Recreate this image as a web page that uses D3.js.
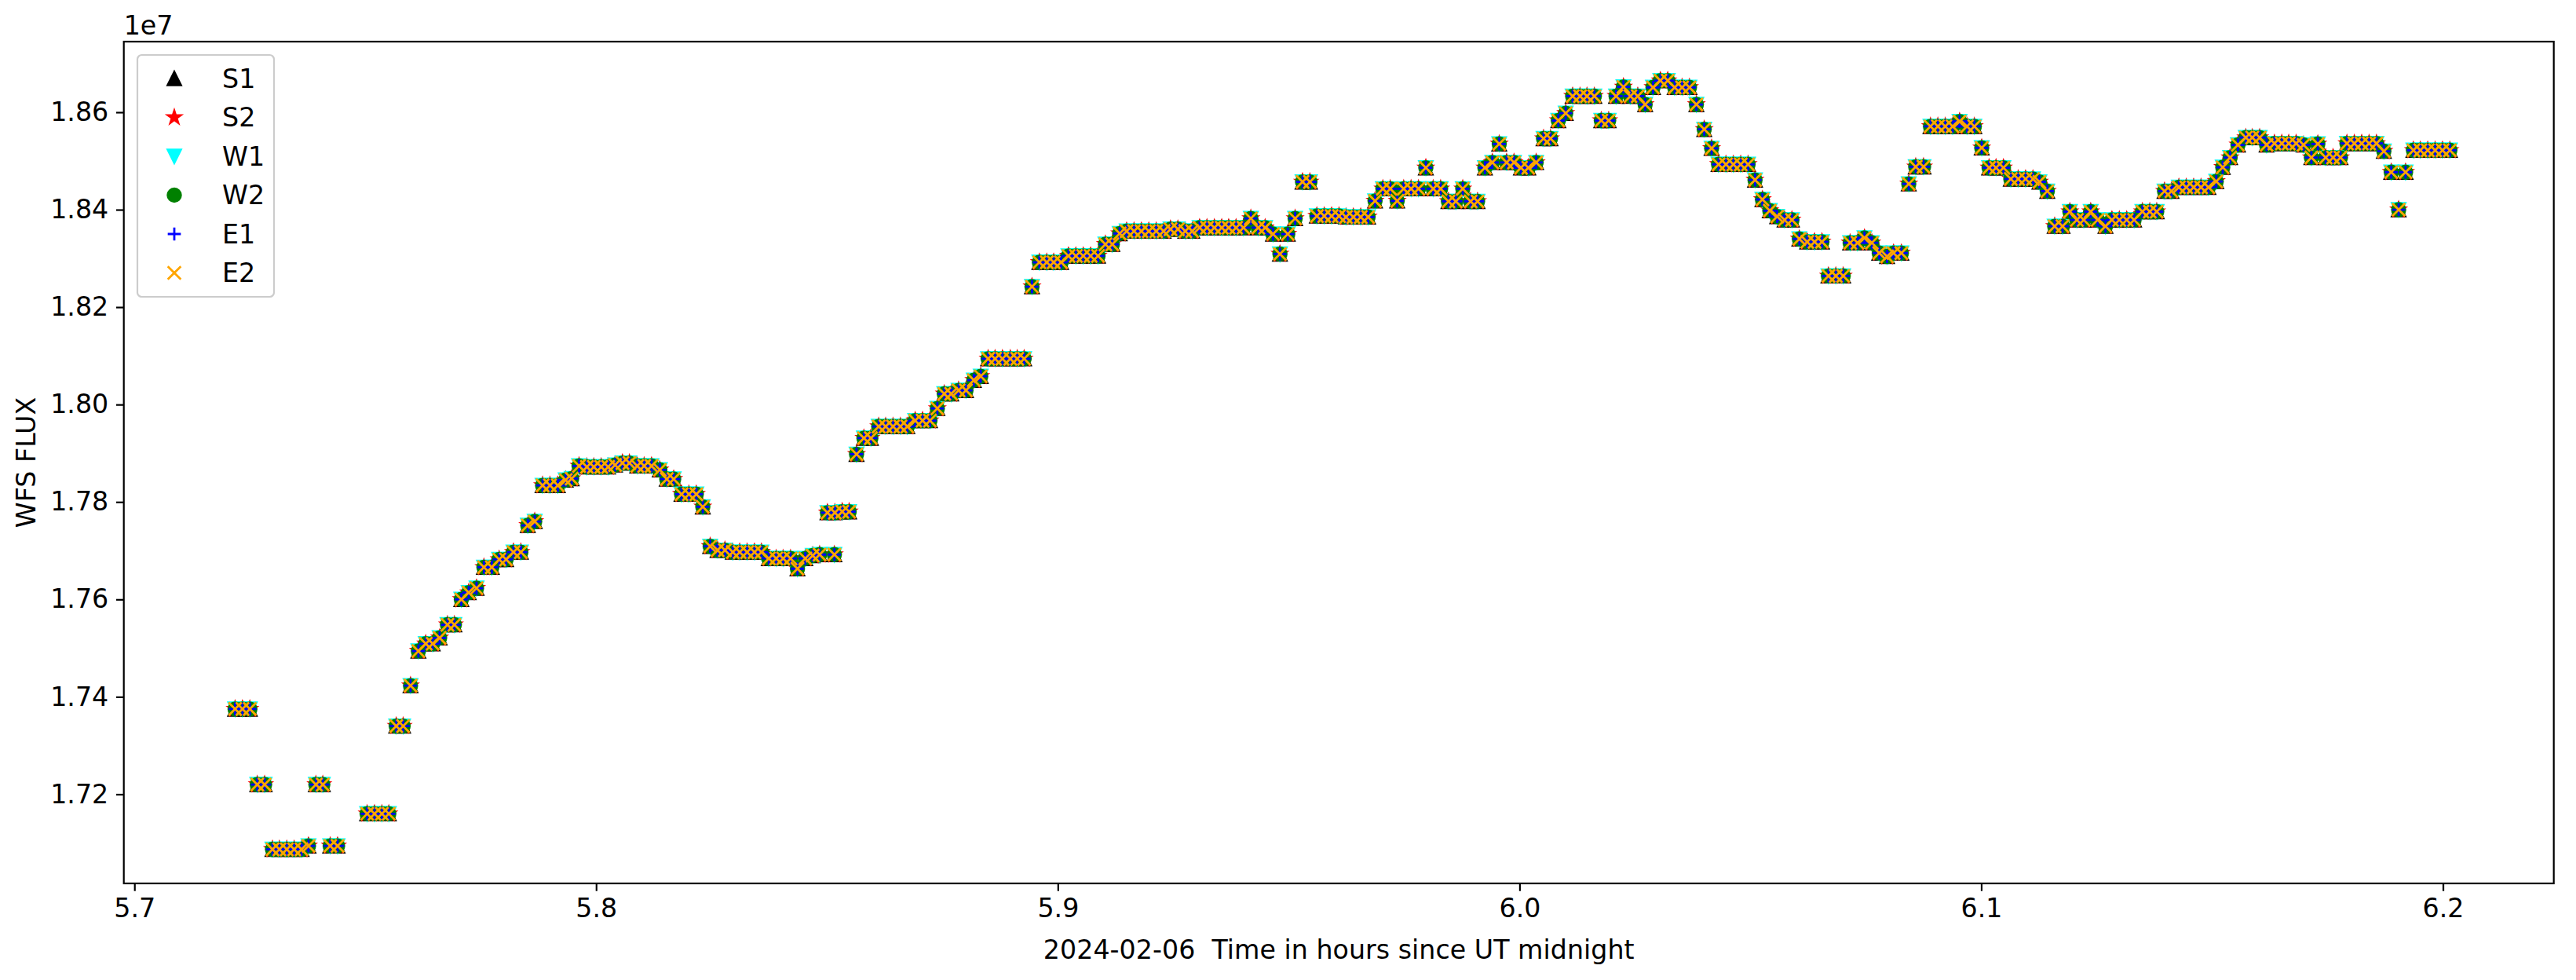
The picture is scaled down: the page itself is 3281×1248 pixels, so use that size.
<!DOCTYPE html>
<html lang="en">
<head>
  <meta charset="UTF-8">
  <title>WFS FLUX</title>
  <script src="https://d3js.org/d3.v7.min.js"></script>
  <style>
    body { margin: 0; background: #fff; }
    svg text { font-family: "DejaVu Sans", sans-serif; }
  </style>
</head>
<body>
  <svg id="chart"></svg>
  <script>
    // time in hours since UT midnight (all six WFS channels sit on the same values)
    var hours = [
      5.7218, 5.7234, 5.7250, 5.7266, 5.7282, 5.7299, 5.7314, 5.7330, 5.7346, 5.7362,
      5.7377, 5.7393, 5.7408, 5.7424, 5.7440, 5.7504, 5.7520, 5.7536, 5.7551, 5.7567,
      5.7582, 5.7598, 5.7615, 5.7631, 5.7646, 5.7661, 5.7678, 5.7693, 5.7708, 5.7724,
      5.7741, 5.7757, 5.7774, 5.7790, 5.7805, 5.7821, 5.7837, 5.7852, 5.7867, 5.7884,
      5.7900, 5.7917, 5.7934, 5.7947, 5.7963, 5.7980, 5.7995, 5.8011, 5.8026, 5.8041,
      5.8057, 5.8072, 5.8089, 5.8104, 5.8120, 5.8138, 5.8153, 5.8168, 5.8185, 5.8201,
      5.8217, 5.8231, 5.8247, 5.8263, 5.8279, 5.8296, 5.8311, 5.8327, 5.8343, 5.8358,
      5.8374, 5.8390, 5.8405, 5.8421, 5.8436, 5.8453, 5.8469, 5.8484, 5.8501, 5.8516,
      5.8517, 5.8533, 5.8548, 5.8564, 5.8580, 5.8595, 5.8612, 5.8627, 5.8643, 5.8659,
      5.8674, 5.8691, 5.8707, 5.8723, 5.8739, 5.8754, 5.8769, 5.8785, 5.8801, 5.8818,
      5.8833, 5.8849, 5.8864, 5.8880, 5.8897, 5.8912, 5.8927, 5.8944, 5.8960, 5.8976,
      5.8991, 5.9007, 5.9023, 5.9039, 5.9055, 5.9071, 5.9087, 5.9103, 5.9118, 5.9134,
      5.9149, 5.9165, 5.9181, 5.9197, 5.9213, 5.9229, 5.9244, 5.9260, 5.9276, 5.9291,
      5.9307, 5.9323, 5.9339, 5.9355, 5.9370, 5.9386, 5.9402, 5.9418, 5.9434, 5.9449,
      5.9466, 5.9481, 5.9498, 5.9514, 5.9530, 5.9546, 5.9561, 5.9577, 5.9593, 5.9609,
      5.9624, 5.9640, 5.9656, 5.9672, 5.9687, 5.9704, 5.9720, 5.9735, 5.9749, 5.9765,
      5.9781, 5.9797, 5.9813, 5.9829, 5.9846, 5.9862, 5.9877, 5.9894, 5.9909, 5.9925,
      5.9941, 5.9956, 5.9972, 5.9988, 6.0003, 6.0019, 6.0036, 6.0052, 6.0067, 6.0084,
      6.0100, 6.0115, 6.0131, 6.0146, 6.0162, 6.0177, 6.0193, 6.0209, 6.0225, 6.0240,
      6.0256, 6.0272, 6.0289, 6.0305, 6.0321, 6.0336, 6.0352, 6.0368, 6.0383, 6.0400,
      6.0416, 6.0431, 6.0447, 6.0463, 6.0479, 6.0495, 6.0510, 6.0526, 6.0542, 6.0558,
      6.0574, 6.0590, 6.0606, 6.0623, 6.0639, 6.0655, 6.0669, 6.0685, 6.0701, 6.0716,
      6.0732, 6.0747, 6.0763, 6.0779, 6.0796, 6.0810, 6.0827, 6.0843, 6.0858, 6.0875,
      6.0890, 6.0906, 6.0922, 6.0938, 6.0953, 6.0969, 6.0985, 6.1001, 6.1017, 6.1032,
      6.1048, 6.1064, 6.1080, 6.1096, 6.1112, 6.1126, 6.1143, 6.1159, 6.1176, 6.1192,
      6.1207, 6.1222, 6.1237, 6.1252, 6.1269, 6.1283, 6.1299, 6.1315, 6.1331, 6.1349,
      6.1365, 6.1380, 6.1397, 6.1412, 6.1428, 6.1444, 6.1460, 6.1476, 6.1492, 6.1509,
      6.1523, 6.1539, 6.1556, 6.1573, 6.1587, 6.1603, 6.1618, 6.1635, 6.1651, 6.1666,
      6.1682, 6.1698, 6.1715, 6.1729, 6.1746, 6.1762, 6.1778, 6.1792, 6.1808, 6.1824,
      6.1840, 6.1856, 6.1872, 6.1888, 6.1904, 6.1919, 6.1936, 6.1951, 6.1967, 6.1983,
      6.1999, 6.2015
    ];

    // flux in units of 1e7
    var flux = [
      1.7375, 1.7375, 1.7375, 1.7220, 1.7220, 1.7087, 1.7087, 1.7087, 1.7087, 1.7087,
      1.7094, 1.7220, 1.7220, 1.7094, 1.7094, 1.7160, 1.7160, 1.7160, 1.7160, 1.7340,
      1.7340, 1.7423, 1.7494, 1.7509, 1.7509, 1.7521, 1.7548, 1.7548, 1.7600, 1.7614,
      1.7623, 1.7666, 1.7666, 1.7682, 1.7682, 1.7697, 1.7697, 1.7752, 1.7760, 1.7834,
      1.7834, 1.7834, 1.7845, 1.7848, 1.7874, 1.7872, 1.7872, 1.7872, 1.7872, 1.7876,
      1.7880, 1.7880, 1.7874, 1.7874, 1.7874, 1.7866, 1.7847, 1.7847, 1.7816, 1.7816,
      1.7816, 1.7790, 1.7709, 1.7701, 1.7701, 1.7697, 1.7697, 1.7697, 1.7697, 1.7697,
      1.7684, 1.7684, 1.7684, 1.7684, 1.7663, 1.7684, 1.7690, 1.7692, 1.7778, 1.7692,
      1.7778, 1.7780, 1.7780, 1.7898, 1.7931, 1.7931, 1.7955, 1.7955, 1.7955, 1.7955,
      1.7955, 1.7967, 1.7967, 1.7967, 1.7992, 1.8022, 1.8022, 1.8029, 1.8029, 1.8050,
      1.8058, 1.8094, 1.8094, 1.8094, 1.8094, 1.8094, 1.8094, 1.8242, 1.8292, 1.8292,
      1.8292, 1.8292, 1.8305, 1.8305, 1.8305, 1.8305, 1.8305, 1.8329, 1.8329, 1.8351,
      1.8356, 1.8356, 1.8356, 1.8356, 1.8356, 1.8356, 1.8360, 1.8360, 1.8356, 1.8356,
      1.8363, 1.8363, 1.8363, 1.8363, 1.8363, 1.8363, 1.8363, 1.8382, 1.8363, 1.8363,
      1.8350, 1.8309, 1.8350, 1.8382, 1.8457, 1.8457, 1.8387, 1.8387, 1.8387, 1.8387,
      1.8385, 1.8385, 1.8385, 1.8385, 1.8418, 1.8443, 1.8443, 1.8418, 1.8443, 1.8443,
      1.8443, 1.8486, 1.8443, 1.8443, 1.8417, 1.8417, 1.8443, 1.8417, 1.8417, 1.8486,
      1.8497, 1.8535, 1.8497, 1.8497, 1.8486, 1.8486, 1.8497, 1.8546, 1.8546, 1.8583,
      1.8598, 1.8633, 1.8633, 1.8633, 1.8633, 1.8583, 1.8583, 1.8633, 1.8652, 1.8633,
      1.8633, 1.8616, 1.8651, 1.8665, 1.8665, 1.8651, 1.8651, 1.8651, 1.8616, 1.8565,
      1.8526, 1.8493, 1.8493, 1.8493, 1.8493, 1.8493, 1.8461, 1.8421, 1.8398, 1.8386,
      1.8379, 1.8379, 1.8340, 1.8334, 1.8334, 1.8334, 1.8264, 1.8264, 1.8264, 1.8332,
      1.8332, 1.8342, 1.8332, 1.8311, 1.8304, 1.8311, 1.8311, 1.8453, 1.8488, 1.8488,
      1.8571, 1.8571, 1.8571, 1.8571, 1.8581, 1.8571, 1.8571, 1.8527, 1.8486, 1.8486,
      1.8486, 1.8463, 1.8463, 1.8463, 1.8463, 1.8457, 1.8438, 1.8366, 1.8366, 1.8396,
      1.8379, 1.8379, 1.8396, 1.8379, 1.8366, 1.8379, 1.8379, 1.8379, 1.8379, 1.8396,
      1.8396, 1.8396, 1.8438, 1.8438, 1.8446, 1.8446, 1.8446, 1.8446, 1.8446, 1.8458,
      1.8487, 1.8507, 1.8533, 1.8548, 1.8548, 1.8548, 1.8533, 1.8536, 1.8536, 1.8536,
      1.8536, 1.8533, 1.8507, 1.8535, 1.8507, 1.8507, 1.8507, 1.8536, 1.8536, 1.8536,
      1.8536, 1.8536, 1.8520, 1.8477, 1.8400, 1.8477, 1.8522, 1.8522, 1.8522, 1.8522,
      1.8522, 1.8522
    ];

    var seriesNames = ['S1', 'S2', 'W1', 'W2', 'E1', 'E2'];
    var seriesColors = ['black', 'red', 'cyan', 'green', 'blue', 'orange'];
    var seriesMarkers = ['triUp', 'star', 'triDown', 'circle', 'plus', 'cross'];

    var xTicks = [5.7, 5.8, 5.9, 6.0, 6.1, 6.2];
    var yTicks = [1.72, 1.74, 1.76, 1.78, 1.80, 1.82, 1.84, 1.86];
    var xLimits = [5.6977, 6.2240];
    var yLimits = [1.7017, 1.8745];

    /* basic sizes */
    var W = 3281, H = 1248;
    var plot = { left: 157.7, right: 3252.7, top: 53, bottom: 1125 };
    var fontSize = 33.3;
    var r = 8.33; // half marker size
    var lw = 2.78;

    var svg = d3.select('#chart').attr('width', W).attr('height', H);
    svg.append('rect').attr('width', W).attr('height', H).attr('fill', '#fff');

    var x = d3.scaleLinear().domain(xLimits).range([plot.left, plot.right]);
    var y = d3.scaleLinear().domain(yLimits).range([plot.bottom, plot.top]);

    // marker shapes like matplotlib's ^ * v o + x
    function markerPath(kind) {
      if (kind == 'triUp') return 'M0,' + (-r) + 'L' + (-r) + ',' + r + 'L' + r + ',' + r + 'Z';
      if (kind == 'triDown') return 'M0,' + r + 'L' + (-r) + ',' + (-r) + 'L' + r + ',' + (-r) + 'Z';
      if (kind == 'plus') return 'M' + (-r) + ',0H' + r + 'M0,' + (-r) + 'V' + r;
      if (kind == 'cross') return 'M' + (-r) + ',' + (-r) + 'L' + r + ',' + r + 'M' + (-r) + ',' + r + 'L' + r + ',' + (-r);
      if (kind == 'star') {
        var pts = [];
        for (var k = 0; k < 10; k++) {
          var rad = (k % 2 == 0) ? r : r * 0.381966;
          var a = -Math.PI / 2 + k * Math.PI / 5;
          pts.push((rad * Math.cos(a)).toFixed(2) + ',' + (rad * Math.sin(a)).toFixed(2));
        }
        return 'M' + pts.join('L') + 'Z';
      }
      return null;
    }

    function drawMarker(sel, kind, color) {
      if (kind == 'circle') {
        sel.append('circle').attr('r', r)
          .attr('fill', color).attr('stroke', color).attr('stroke-width', lw);
      } else if (kind == 'plus' || kind == 'cross') {
        sel.append('path').attr('d', markerPath(kind))
          .attr('fill', 'none').attr('stroke', color).attr('stroke-width', lw);
      } else {
        sel.append('path').attr('d', markerPath(kind))
          .attr('fill', color).attr('stroke', color).attr('stroke-width', lw)
          .attr('stroke-linejoin', 'miter');
      }
    }

    var points = hours.map(function (h, i) { return { h: h, v: flux[i] }; });

    svg.append('clipPath').attr('id', 'clip')
      .append('rect')
      .attr('x', plot.left).attr('y', plot.top)
      .attr('width', plot.right - plot.left).attr('height', plot.bottom - plot.top);

    var dots = svg.append('g').attr('clip-path', 'url(#clip)');

    seriesNames.forEach(function (name, s) {
      var g = dots.append('g').attr('class', 'series-' + name);
      g.selectAll('g.pt')
        .data(points)
        .enter()
        .append('g')
        .attr('class', 'pt')
        .attr('transform', function (d) {
          return 'translate(' + x(d.h) + ',' + y(d.v) + ')';
        })
        .each(function () {
          drawMarker(d3.select(this), seriesMarkers[s], seriesColors[s]);
        });
    });

    /* axes */
    var axisX = d3.axisBottom(x).tickValues(xTicks).tickSize(9.7).tickPadding(9.7)
      .tickFormat(d3.format('.1f'));
    var axisY = d3.axisLeft(y).tickValues(yTicks).tickSize(9.7).tickPadding(9.7)
      .tickFormat(d3.format('.2f'));

    var gx = svg.append('g').attr('transform', 'translate(0,' + plot.bottom + ')').call(axisX);
    var gy = svg.append('g').attr('transform', 'translate(' + plot.left + ',0)').call(axisY);
    [gx, gy].forEach(function (g) {
      g.select('.domain').remove();
      g.selectAll('line').attr('stroke', '#000').attr('stroke-width', 2.2);
      g.selectAll('text').attr('fill', '#000')
        .style('font-size', fontSize + 'px')
        .style('font-family', '"DejaVu Sans", sans-serif');
    });

    svg.append('rect')
      .attr('x', plot.left).attr('y', plot.top)
      .attr('width', plot.right - plot.left).attr('height', plot.bottom - plot.top)
      .attr('fill', 'none').attr('stroke', '#000').attr('stroke-width', 2.2);

    // offset text, axis labels
    svg.append('text')
      .attr('x', plot.left).attr('y', 44)
      .style('font-size', fontSize + 'px')
      .text('1e7');

    svg.append('text')
      .attr('x', (plot.left + plot.right) / 2).attr('y', 1221)
      .attr('text-anchor', 'middle')
      .style('font-size', fontSize + 'px')
      .style('white-space', 'pre')
      .text('2024-02-06  Time in hours since UT midnight');

    svg.append('text')
      .attr('transform', 'translate(33,' + ((plot.top + plot.bottom) / 2) + ') rotate(-90)')
      .attr('text-anchor', 'middle')
      .attr('dy', '0.35em')
      .style('font-size', fontSize + 'px')
      .text('WFS FLUX');

    /* legend */
    var legend = svg.append('g');
    legend.append('rect')
      .attr('x', 175).attr('y', 70).attr('width', 174).attr('height', 308)
      .attr('rx', 5.6).attr('ry', 5.6)
      .attr('fill', '#fff').attr('fill-opacity', 0.8)
      .attr('stroke', '#cccccc').attr('stroke-width', 2.2);

    seriesNames.forEach(function (name, s) {
      var row = legend.append('g').attr('transform', 'translate(0,' + (100 + s * 49.5) + ')');
      drawMarker(row.append('g').attr('transform', 'translate(222,0)'), seriesMarkers[s], seriesColors[s]);
      row.append('text')
        .attr('x', 283).attr('dy', '0.35em')
        .style('font-size', fontSize + 'px')
        .text(name);
    });
  </script>
</body>
</html>
